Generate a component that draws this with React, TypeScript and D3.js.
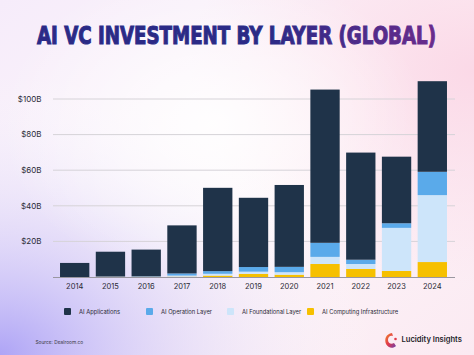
import React, { useLayoutEffect, useRef, useState } from "react";
import * as d3 from "d3";

const years = ["2014", "2015", "2016", "2017", "2018", "2019", "2020", "2021", "2022", "2023", "2024"];
const aiComputing = [0, 0.1, 0.1, 0.2, 0.8, 1.8, 1.3, 7.3, 4.5, 3.4, 8.4];
const aiFoundational = [0, 0.1, 0.1, 0.6, 1.0, 1.2, 1.4, 4.0, 2.8, 24.2, 37.6];
const aiOperation = [0, 0.1, 0.2, 1.2, 1.5, 2.6, 3.0, 7.9, 2.4, 2.6, 13.1];
const aiApplications = [7.9, 13.9, 15.0, 27.0, 46.8, 38.9, 46.0, 86.1, 60.2, 37.4, 50.9];
const yTicks = [20, 40, 60, 80, 100];

const seriesNames = ["AI Computing Infrastructure", "AI Foundational Layer", "AI Operation Layer", "AI Applications"];
const seriesColors = ["#f6c000", "#cde5fa", "#5aaaea", "#1f3349"];
const legendOrder = [3, 2, 1, 0];

export default function App() {
  const W = 474, H = 355;
  const titleRef = useRef<SVGTextElement>(null);
  const [sx, setSx] = useState(0.82);
  useLayoutEffect(() => {
    if (titleRef.current) {
      const w = titleRef.current.getComputedTextLength();
      if (w > 0) setSx(399 / w);
    }
  }, []);

  const x = d3.scaleBand<string>().domain(years).range([56.8, 450.2]).paddingInner(0.18).paddingOuter(0.09);
  const y = d3.scaleLinear().domain([0, 100]).range([277, 99]);
  const table = years.map((yr, i) => ({
    year: yr,
    s0: aiComputing[i],
    s1: aiFoundational[i],
    s2: aiOperation[i],
    s3: aiApplications[i],
  }));
  const stack = d3.stack<any>().keys(["s0", "s1", "s2", "s3"]);
  const layers = stack(table);
  const legendX = [64, 146, 227, 307];
  const font = "Inter, 'Noto Sans', sans-serif";

  return (
    <svg width={W} height={H} style={{ position: "absolute", left: 0, top: 0 }}>
      <defs>
        <linearGradient id="bgbase" x1="0" y1="0" x2="1" y2="1">
          <stop offset="0" stopColor="#f6ecfa" />
          <stop offset="0.5" stopColor="#fdf6fa" />
          <stop offset="1" stopColor="#fbeaf2" />
        </linearGradient>
        <radialGradient id="lav" cx="0" cy="1" r="0.8">
          <stop offset="0" stopColor="#aea4f6" stopOpacity="1" />
          <stop offset="0.45" stopColor="#d4ccf8" stopOpacity="0.55" />
          <stop offset="1" stopColor="#ffffff" stopOpacity="0" />
        </radialGradient>
        <radialGradient id="pinkTR" cx="1" cy="0.2" r="0.6">
          <stop offset="0" stopColor="#fbd9e7" stopOpacity="1" />
          <stop offset="1" stopColor="#fbd9e7" stopOpacity="0" />
        </radialGradient>
        <radialGradient id="whiteC" cx="0.45" cy="0.35" r="0.45">
          <stop offset="0" stopColor="#ffffff" stopOpacity="0.9" />
          <stop offset="1" stopColor="#ffffff" stopOpacity="0" />
        </radialGradient>
        <linearGradient id="titleGrad" x1="37" y1="0" x2="436" y2="0" gradientUnits="userSpaceOnUse">
          <stop offset="0" stopColor="#2b2a86" />
          <stop offset="0.5" stopColor="#6a2c8c" />
          <stop offset="1" stopColor="#d8336c" />
        </linearGradient>
        <linearGradient id="logoGrad" x1="0" y1="0" x2="1" y2="1">
          <stop offset="0" stopColor="#f08a2a" />
          <stop offset="0.5" stopColor="#e23a4a" />
          <stop offset="1" stopColor="#6a3fb0" />
        </linearGradient>
      </defs>
      <rect x={0} y={0} width={W} height={H} fill="url(#bgbase)" />
      <rect x={0} y={0} width={W} height={H} fill="url(#pinkTR)" />
      <rect x={0} y={0} width={W} height={H} fill="url(#lav)" />
      <rect x={0} y={0} width={W} height={H} fill="url(#whiteC)" />

      <g transform={`translate(236.5,43.5) scale(${sx},1)`}>
        <text
          ref={titleRef}
          x={0}
          y={0}
          textAnchor="middle"
          fontFamily="'DejaVu Sans Condensed', 'DejaVu Sans', sans-serif"
          fontWeight="bold"
          fontSize={24}
          fill="#5a2c8a"
          stroke="#5a2c8a"
          strokeWidth={1}
          style={{ fill: "url(#titleGrad)", stroke: "url(#titleGrad)" } as any}
        >
          AI VC INVESTMENT BY LAYER (GLOBAL)
        </text>
      </g>

      {yTicks.map((t) => (
        <g key={t}>
          <line x1={53} x2={455} y1={y(t)} y2={y(t)} stroke="#d6d3d8" strokeWidth={1} />
          <text x={41.5} y={y(t)} dy="0.35em" textAnchor="end" fontFamily={font} fontSize={8} fill="#2a2a35">
            {`$${t}B`}
          </text>
        </g>
      ))}

      {layers.map((layer, li) => (
        <g key={li} fill={seriesColors[li]}>
          {layer.map((d: any, i: number) => (
            <rect
              key={i}
              x={x(years[i])}
              y={y(d[1])}
              width={x.bandwidth()}
              height={Math.max(0, y(d[0]) - y(d[1]))}
            />
          ))}
        </g>
      ))}

      <line x1={53} x2={455} y1={y(0) + 0.5} y2={y(0) + 0.5} stroke="#9a97a0" strokeWidth={1} />

      {years.map((yr) => (
        <text
          key={yr}
          x={(x(yr) as number) + x.bandwidth() / 2}
          y={289}
          textAnchor="middle"
          fontFamily={font}
          fontSize={7.5}
          fill="#2a2a35"
        >
          {yr}
        </text>
      ))}

      {legendOrder.map((si, k) => (
        <g key={si}>
          <rect x={legendX[k]} y={308} width={7} height={7} rx={1} fill={seriesColors[si]} />
          <text x={legendX[k] + 15} y={311.8} dy="0.35em" fontFamily={font} fontSize={5.8} fill="#2a2a35">
            {seriesNames[si]}
          </text>
        </g>
      ))}

      <text x={35.5} y={342} dy="0.35em" fontFamily={font} fontSize={4.8} fill="#3a3a45">
        Source: Dealroom.co
      </text>

      <g>
        <path
          d="M392,333 C386,334 384,339 386,344 C388,348 393,349 396,346 L394,343 C391,345 388,343 388,340 C388,337 390,335 393,336 Z"
          fill="url(#logoGrad)"
        />
        <circle cx={395.5} cy={339} r={1.3} fill="#e23a4a" />
        <text x={401.5} y={339.5} dy="0.35em" fontFamily={font} fontWeight="600" fontSize={7.6} fill="#1e1e2a">
          Lucidity Insights
        </text>
      </g>
    </svg>
  );
}
